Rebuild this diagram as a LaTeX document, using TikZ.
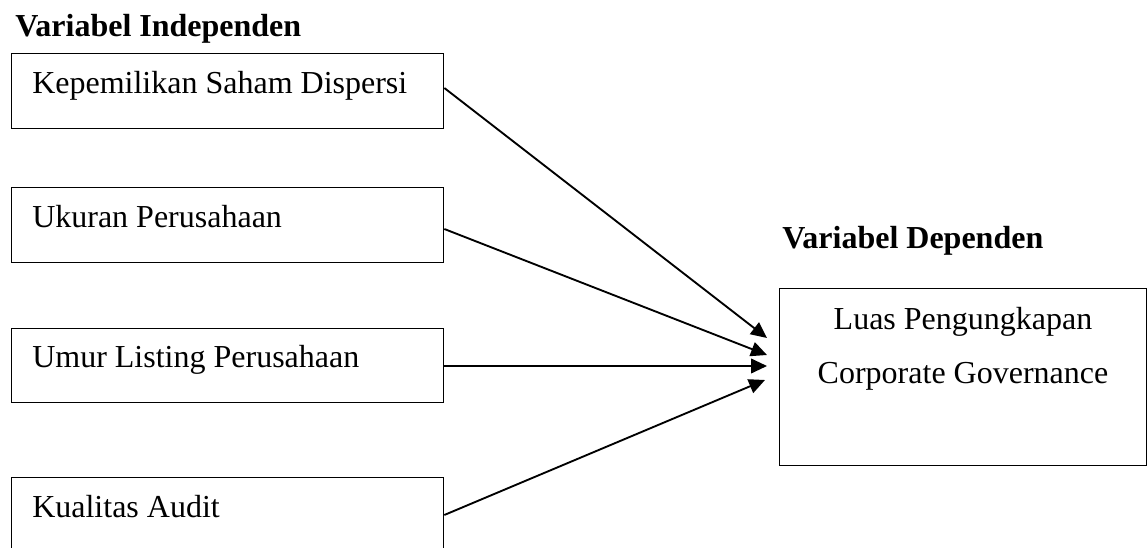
\documentclass[tikz,border=0pt]{standalone}
\usepackage{fontspec}
\setmainfont{Liberation Serif}
\usetikzlibrary{arrows.meta,calc}
\begin{document}
\begin{tikzpicture}[x=0.75pt,y=-0.75pt,
  box/.style={draw=black,line width=1pt,rectangle,inner sep=0pt,anchor=north west},
  txt/.style={inner sep=0pt,font=\fontsize{24}{28}\selectfont},
  ttl/.style={inner sep=0pt,font=\fontsize{24}{28}\selectfont\bfseries},
  conn/.style={line width=1.4pt,-{Triangle[length=12pt,width=11pt]}}]
\useasboundingbox (0,0) rectangle (1147,548);
% titles
\node[ttl,anchor=base west] (t1) at (15,37) {Variabel Independen};
\node[ttl,anchor=base west] (t2) at (782,249) {Variabel Dependen};
% left boxes
\node[box,minimum width=432*0.75pt,minimum height=75*0.75pt] (b1) at (11,53) {};
\node[box,minimum width=432*0.75pt,minimum height=75*0.75pt] (b2) at (11,187) {};
\node[box,minimum width=432*0.75pt,minimum height=74*0.75pt] (b3) at (11,328) {};
\node[box,minimum width=432*0.75pt,minimum height=85*0.75pt] (b4) at (11,477) {};
\node[txt,anchor=base west] (l1) at (32,94) {Kepemilikan Saham Dispersi};
\node[txt,anchor=base west] (l2) at (32,228) {Ukuran Perusahaan};
\node[txt,anchor=base west] (l3) at (32,368) {Umur Listing Perusahaan};
\node[txt,anchor=base west] (l4) at (32,518) {Kualitas Audit};
% right box
\node[box,minimum width=367*0.75pt,minimum height=177*0.75pt] (d) at (779,288) {};
\node[txt,anchor=base] (d1) at (963,330) {Luas Pengungkapan};
\node[txt,anchor=base] (d2) at (963,384) {Corporate Governance};
% arrow start and end points
\coordinate (s1) at ($(b1.north east)+(0,-35*0.75pt)$);
\coordinate (s2) at ($(b2.north east)+(0,-42*0.75pt)$);
\coordinate (s3) at ($(b3.north east)+(0,-38*0.75pt)$);
\coordinate (s4) at ($(b4.north east)+(0,-38*0.75pt)$);
\coordinate (e1) at (767,338);
\coordinate (e2) at (767,355);
\coordinate (e3) at (767,366);
\coordinate (e4) at (765,380);
\draw[conn] (s1) -- (e1);
\draw[conn] (s2) -- (e2);
\draw[conn] (s3) -- (e3);
\draw[conn] (s4) -- (e4);
\end{tikzpicture}
\end{document}
